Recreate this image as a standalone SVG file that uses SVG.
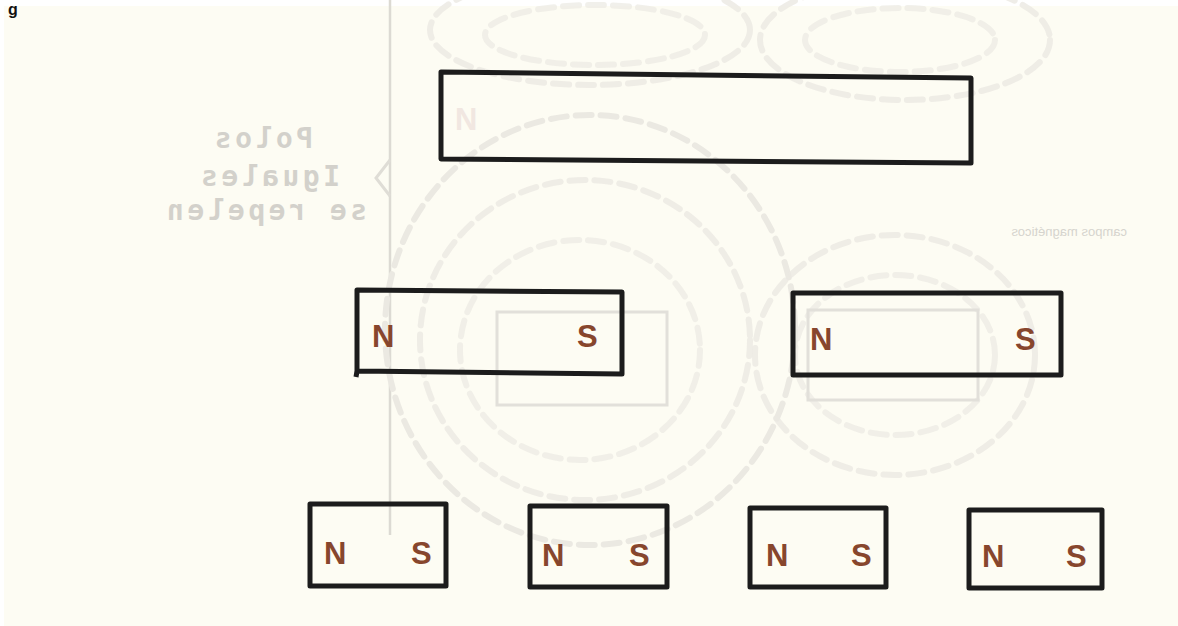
<svg xmlns="http://www.w3.org/2000/svg" width="1178" height="626" viewBox="0 0 1178 626">
<style>
.mag{fill:none;stroke:#1c1c1c;stroke-width:5;stroke-linejoin:round}
.pole{font-family:"Liberation Sans",Arial,sans-serif;font-weight:bold;font-size:31px;fill:#87462d}
.ghost{fill:none;stroke:#ebe9e2;stroke-width:6;stroke-dasharray:16 9;stroke-linecap:round}
.gtext{font-family:"DejaVu Sans Mono",monospace;font-weight:bold;font-size:28px;letter-spacing:3.5px;fill:#d3d1cb}
</style>
<rect x="0" y="0" width="1178" height="626" fill="#fdfcf3"/>
<rect x="0" y="0" width="1178" height="6" fill="#ffffff"/>
<rect x="0" y="0" width="4" height="626" fill="#ffffff"/>
<text x="8" y="15" font-family="Liberation Sans,Arial,sans-serif" font-weight="bold" font-size="16" fill="#111">g</text>
<g id="background">
<line x1="390" y1="0" x2="390" y2="535" stroke="#dcdad3" stroke-width="2.5"/>
<path d="M390 160 L376 178 L390 196" fill="none" stroke="#dfddd6" stroke-width="3"/>
<ellipse class="ghost" cx="590" cy="330" rx="205" ry="215"/>
<ellipse class="ghost" cx="585" cy="340" rx="165" ry="160" opacity="0.8"/>
<ellipse class="ghost" cx="580" cy="350" rx="120" ry="110" opacity="0.7"/>
<ellipse class="ghost" cx="590" cy="30" rx="160" ry="55" opacity="0.8"/>
<ellipse class="ghost" cx="595" cy="35" rx="110" ry="30" opacity="0.7"/>
<ellipse class="ghost" cx="905" cy="40" rx="145" ry="60" opacity="0.8"/>
<ellipse class="ghost" cx="900" cy="40" rx="95" ry="32" opacity="0.7"/>
<ellipse class="ghost" cx="895" cy="355" rx="140" ry="120" opacity="0.8"/>
<ellipse class="ghost" cx="895" cy="355" rx="100" ry="80" opacity="0.7"/>
<rect x="497" y="312" width="170" height="93" fill="none" stroke="#e2e0da" stroke-width="3"/>
<rect x="808" y="310" width="170" height="90" fill="none" stroke="#e2e0da" stroke-width="3"/>
<g transform="scale(-1,1)">
<text class="gtext" x="-313" y="148">Polos</text>
<text class="gtext" x="-340" y="186">Iguales</text>
<text class="gtext" x="-367" y="220">se repelen</text>
<text x="-1127" y="236" font-family="Liberation Sans,Arial,sans-serif" font-size="13" fill="#d6d4ce">campos magnéticos</text>
</g>
</g>
<g id="magnet-top">
<path class="mag" d="M441 72 L971 78 L971 163 L441 159 Z"/>
<text x="455" y="130" class="pole" style="fill:#f1e7e1">N</text>
</g>
<g id="magnet-mid-left">
<path class="mag" d="M357 290 L622 292 L622 374 L357 371 Z M357 371 L356 377"/>
<text class="pole" x="372" y="347">N</text>
<text class="pole" x="577" y="347">S</text>
</g>
<g id="magnet-mid-right">
<rect class="mag" x="793" y="293" width="268" height="82"/>
<text class="pole" x="810" y="350">N</text>
<text class="pole" x="1015" y="350">S</text>
</g>
<g id="magnet-b1">
<rect class="mag" x="310" y="504" width="136" height="82"/>
<text class="pole" x="324" y="564">N</text>
<text class="pole" x="411" y="564">S</text>
</g>
<g id="magnet-b2">
<rect class="mag" x="530" y="506" width="137" height="81"/>
<text class="pole" x="542" y="566">N</text>
<text class="pole" x="629" y="566">S</text>
</g>
<g id="magnet-b3">
<rect class="mag" x="750" y="508" width="136" height="79"/>
<text class="pole" x="766" y="566">N</text>
<text class="pole" x="851" y="566">S</text>
</g>
<g id="magnet-b4">
<rect class="mag" x="969" y="510" width="133" height="78"/>
<text class="pole" x="982" y="567">N</text>
<text class="pole" x="1066" y="567">S</text>
</g>
<g id="connectors"></g>
</svg>
